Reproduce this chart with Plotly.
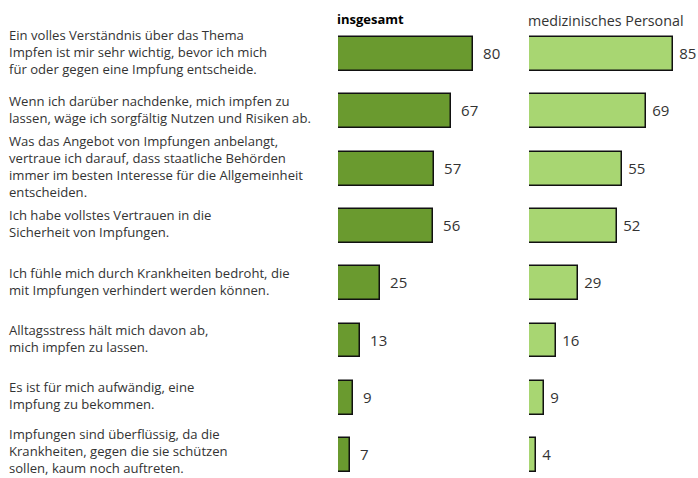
import plotly.graph_objects as go

categories = [
    "Ein volles Verständnis über das Thema<br>Impfen ist mir sehr wichtig, bevor ich mich<br>für oder gegen eine Impfung entscheide.",
    "Wenn ich darüber nachdenke, mich impfen zu<br>lassen, wäge ich sorgfältig Nutzen und Risiken ab.",
    "Was das Angebot von Impfungen anbelangt,<br>vertraue ich darauf, dass staatliche Behörden<br>immer im besten Interesse für die Allgemeinheit<br>entscheiden.",
    "Ich habe vollstes Vertrauen in die<br>Sicherheit von Impfungen.",
    "Ich fühle mich durch Krankheiten bedroht, die<br>mit Impfungen verhindert werden können.",
    "Alltagsstress hält mich davon ab,<br>mich impfen zu lassen.",
    "Es ist für mich aufwändig, eine<br>Impfung zu bekommen.",
    "Impfungen sind überflüssig, da die<br>Krankheiten, gegen die sie schützen<br>sollen, kaum noch auftreten.",
]
insgesamt = [80, 67, 57, 56, 25, 13, 9, 7]
medizinisch = [85, 69, 55, 52, 29, 16, 9, 4]
series_titles = ["insgesamt", "medizinisches Personal"]

W, H = 698, 478
pos = list(range(len(categories)))
FONT = "Open Sans"
TXT = "#333333"

fig = go.Figure()
fig.add_trace(go.Bar(
    x=insgesamt, y=pos, orientation="h", xaxis="x", yaxis="y",
    marker=dict(color="#6A9A2F", line=dict(color="#111111", width=1.5)),
    width=0.59, text=insgesamt, texttemplate="  %{x}", textposition="outside",
    textfont=dict(family=FONT, size=15, color=TXT), cliponaxis=False,
    constraintext="none", showlegend=False, hoverinfo="skip",
))
fig.add_trace(go.Bar(
    x=medizinisch, y=pos, orientation="h", xaxis="x2", yaxis="y",
    marker=dict(color="#A8D672", line=dict(color="#111111", width=1.5)),
    width=0.59, text=medizinisch, texttemplate=" %{x}", textposition="outside",
    textfont=dict(family=FONT, size=15, color=TXT), cliponaxis=False,
    constraintext="none", showlegend=False, hoverinfo="skip",
))

y0 = -54 / 57.3
y1 = (H - 54) / 57.3

annotations = []
for i, c in enumerate(categories):
    annotations.append(dict(
        text=c, x=8 / W, xref="paper", xanchor="left", y=i, yref="y",
        yanchor="middle", align="left", showarrow=False,
        yshift=4 if i == len(categories) - 1 else 2, borderpad=0,
        font=dict(family=FONT, size=13.1, color=TXT),
    ))
annotations.append(dict(text="<b>" + series_titles[0] + "</b>", x=335 / W, xref="paper",
                        xanchor="left", y=1 - 19 / H, yref="paper", yanchor="middle",
                        showarrow=False, font=dict(family=FONT, size=13, color="#000000")))
annotations.append(dict(text=series_titles[1], x=526 / W, xref="paper",
                        xanchor="left", y=1 - 20 / H, yref="paper", yanchor="middle",
                        showarrow=False, font=dict(family=FONT, size=14.3, color=TXT)))

fig.update_layout(
    width=W, height=H, margin=dict(l=0, r=0, t=0, b=0),
    paper_bgcolor="white", plot_bgcolor="white",
    xaxis=dict(domain=[338 / W, (338 + 169) / W], range=[0, 100], visible=False),
    xaxis2=dict(domain=[529 / W, 1.0], range=[0, 100], visible=False),
    yaxis=dict(range=[y1, y0], visible=False, domain=[0, 1]),
    annotations=annotations,
    bargap=0,
)
fig.write_html("out.html", config={"displayModeBar": False},
               post_script="document.body.style.margin='0';document.body.style.overflow='hidden';")
